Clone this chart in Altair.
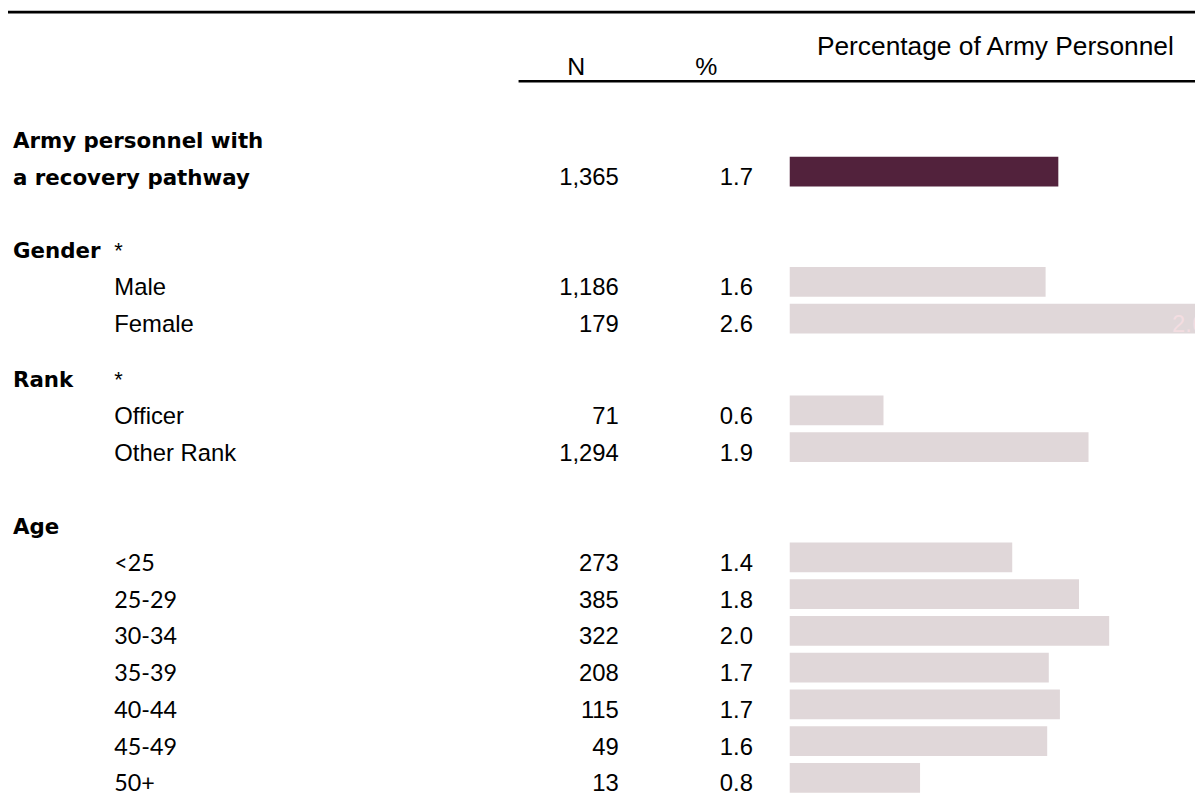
import altair as alt
import pandas as pd

# ---------------- data ----------------
total_lines = ["Army personnel with", "a recovery pathway"]
total_n = 1365
total_pct = "1.7"
total_bar = 1.69

groups = ["Gender", "Rank", "Age"]
group_marks = ["*", "*", ""]
group_sizes = [2, 2, 7]

categories = ["Male", "Female", "Officer", "Other Rank",
              "<25", "25-29", "30-34", "35-39", "40-44", "45-49", "50+"]
n_values = [1186, 179, 71, 1294, 273, 385, 322, 208, 115, 49, 13]
pct_labels = ["1.6", "2.6", "0.6", "1.9", "1.4", "1.8", "2.0", "1.7", "1.7", "1.6", "0.8"]
bar_values = [1.61, 2.62, 0.59, 1.88, 1.40, 1.82, 2.01, 1.63, 1.70, 1.62, 0.82]

header_n = "N"
header_pct = "%"
header_bar = "Percentage of  Army Personnel"

# ---------------- layout (style) ----------------
W, H = 1195, 789
DARK = "#52223C"
LIGHT = "#E0D7D9"
group_slots = [2.0, 5.5, 9.5]
half_bar = 15 / 37

rows = []
rows.append(dict(label=total_lines[1], slot=0.0, kind="total",
                 n=f"{total_n:,}", pct=total_pct, bar=total_bar, font="arial"))
i = 0
for g, gs, size in zip(groups, group_slots, group_sizes):
    for k in range(size):
        rows.append(dict(label=categories[i], slot=gs + 1 + k, kind="item",
                         n=f"{n_values[i]:,}", pct=pct_labels[i], bar=bar_values[i],
                         font="lato" if g == "Age" else "arial"))
        i += 1
df = pd.DataFrame(rows)

gdf = pd.DataFrame(dict(label=groups, mark=group_marks, slot=group_slots))
tdf = pd.DataFrame(dict(label=total_lines, slot=[-1.0, 0.0]))

yscale = alt.Scale(domain=[-162 / 37, (H - 162) / 37], reverse=True)
xscale = alt.Scale(domain=[-787 / 160, (W - 787) / 160])

Y = alt.Y("slot:Q", scale=yscale, axis=None)

bars = alt.Chart(df).transform_calculate(
    top=f"datum.slot - {half_bar}", bot=f"datum.slot + {half_bar}"
).mark_rect(clip=True).encode(
    x=alt.X("bar:Q", scale=xscale, axis=None),
    x2=alt.datum(0),
    y=alt.Y("top:Q", scale=yscale, axis=None),
    y2="bot:Q",
    color=alt.Color("kind:N", scale=alt.Scale(domain=["total", "item"], range=[DARK, LIGHT]), legend=None),
)

female_lbl = alt.Chart(df).transform_filter(
    alt.datum.label == "Female"
).mark_text(align="right", baseline="alphabetic", dy=13.5, dx=-1, font="Liberation Sans",
            fontSize=24, color="#F3DDE1", clip=True).encode(
    x=alt.X("bar:Q", scale=xscale, axis=None), y=Y, text="pct:N")

txt = dict(baseline="alphabetic", dy=13.5, color="black")

items_arial = alt.Chart(df).transform_filter(
    (alt.datum.kind == "item") & (alt.datum.font == "arial")
).mark_text(align="left", font="Liberation Sans", fontSize=24, **txt).encode(
    x=alt.value(107), y=Y, text="label:N")

items_lato = alt.Chart(df).transform_filter(
    alt.datum.font == "lato"
).mark_text(align="left", font="Lato", fontSize=23.5, **txt).encode(
    x=alt.value(107), y=Y, text="label:N")

n_txt = alt.Chart(df).mark_text(align="right", font="Liberation Sans", fontSize=24, **txt).encode(
    x=alt.value(615), y=Y, text="n:N")

pct_txt = alt.Chart(df).mark_text(align="right", font="Liberation Sans", fontSize=24, **txt).encode(
    x=alt.value(750), y=Y, text="pct:N")

group_txt = alt.Chart(gdf).mark_text(align="left", font="DejaVu Sans", fontWeight="bold",
                                     fontSize=21.5, **txt).encode(
    x=alt.value(5), y=Y, text="label:N")

group_star = alt.Chart(gdf).mark_text(align="left", font="Liberation Sans", fontSize=22, **txt).encode(
    x=alt.value(107), y=Y, text="mark:N")

total_txt = alt.Chart(tdf).mark_text(align="left", font="DejaVu Sans", fontWeight="bold",
                                     fontSize=21.5, **txt).encode(
    x=alt.value(5), y=Y, text="label:N")

hdr_n = alt.Chart(pd.DataFrame(dict(t=[header_n]))).mark_text(
    align="center", baseline="alphabetic", font="Liberation Sans", fontSize=25, color="black").encode(
    x=alt.value(572), y=alt.value(65), text="t:N")
hdr_pct = alt.Chart(pd.DataFrame(dict(t=[header_pct]))).mark_text(
    align="center", baseline="alphabetic", font="Liberation Sans", fontSize=25, color="black").encode(
    x=alt.value(703), y=alt.value(65), text="t:N")

hdr_bar = alt.Chart(pd.DataFrame(dict(t=[header_bar]))).mark_text(
    align="center", baseline="alphabetic", font="Liberation Sans", fontSize=26.5, color="black").encode(
    x=alt.value(994), y=alt.value(45), text="t:N")

one = pd.DataFrame(dict(a=[0]))
top_rule = alt.Chart(one).mark_rule(color="black", strokeWidth=3).encode(
    x=alt.value(0), x2=alt.value(W), y=alt.value(1.5))
hdr_rule = alt.Chart(one).mark_rule(color="black", strokeWidth=2.5).encode(
    x=alt.value(514), x2=alt.value(W), y=alt.value(71))

chart = alt.layer(
    bars, female_lbl, items_arial, items_lato, n_txt, pct_txt, group_txt, group_star,
    total_txt, hdr_n, hdr_pct, hdr_bar, top_rule, hdr_rule
).resolve_scale(x="independent").properties(
    width=W, height=H, padding=0, autosize=alt.AutoSizeParams(type="none"),
    background="white"
).configure_view(stroke=None)

chart.save("out.html", embed_options={"renderer": "svg", "actions": False})
